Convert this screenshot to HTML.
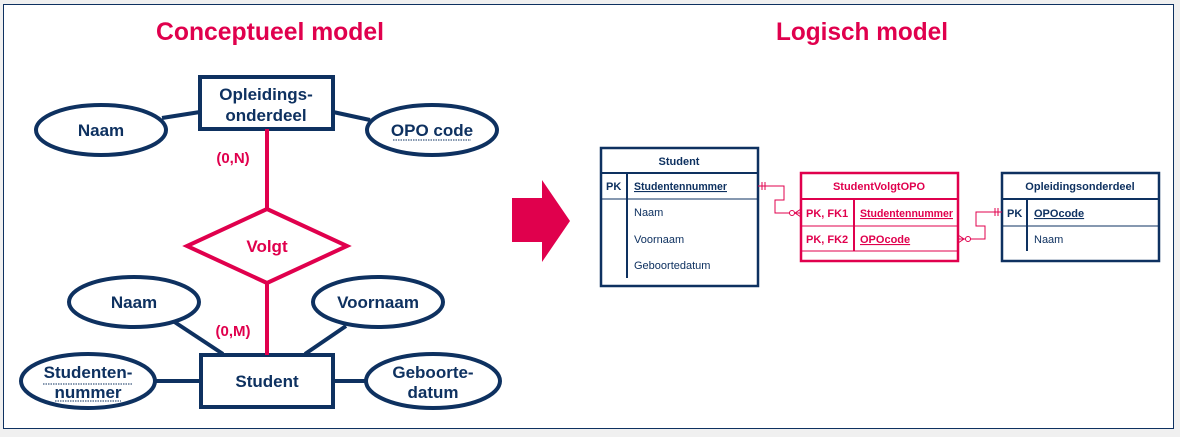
<!DOCTYPE html>
<html><head><meta charset="utf-8"><style>
html,body{margin:0;padding:0;background:#f0f0f0;}
svg{display:block;}
text{font-family:"Liberation Sans",Arial,sans-serif;font-weight:bold;}
.n{fill:#0e3160;}
.r{fill:#e0004d;}
.e{font-size:17px;}
.t{font-size:11px;}
.s{font-weight:normal;font-size:11px;fill:#0e3160;}
</style></head><body>
<svg width="1180" height="437" viewBox="0 0 1180 437" xmlns="http://www.w3.org/2000/svg">
<rect x="0" y="0" width="1180" height="437" fill="#f0f0f0"/>
<rect x="3.5" y="4.5" width="1170" height="424" fill="#fff" stroke="#0e3160" stroke-width="1"/>
<text x="270" y="40" class="r" style="font-size:25px" text-anchor="middle" textLength="228" lengthAdjust="spacingAndGlyphs">Conceptueel model</text>
<text x="862" y="40" class="r" style="font-size:25px" text-anchor="middle" textLength="172" lengthAdjust="spacingAndGlyphs">Logisch model</text>

<g stroke="#0e3160" stroke-width="4" fill="#fff">
<line x1="162" y1="118" x2="200" y2="112"/>
<line x1="333" y1="112" x2="370" y2="120"/>
<line x1="173" y1="321" x2="223" y2="354"/>
<line x1="346" y1="326" x2="305" y2="354"/>
<line x1="154" y1="381" x2="201" y2="381"/>
<line x1="333" y1="381" x2="367" y2="381"/>
<rect x="200" y="77" width="133" height="52"/>
<ellipse cx="101" cy="130" rx="65" ry="25"/>
<ellipse cx="432" cy="130" rx="65" ry="25"/>
<ellipse cx="134" cy="302" rx="65" ry="25"/>
<ellipse cx="378" cy="302" rx="65" ry="25"/>
<ellipse cx="88" cy="381" rx="67" ry="27"/>
<ellipse cx="433" cy="381" rx="67" ry="27"/>
<rect x="201" y="355" width="132" height="52"/>
</g>
<g stroke="#e0004d" stroke-width="4" fill="#fff">
<line x1="267" y1="129" x2="267" y2="210"/>
<line x1="267" y1="283" x2="267" y2="355"/>
<polygon points="267,209 347,246 267,283 187,246"/>
</g>
<g text-anchor="middle">
<text x="266" y="100" class="n e">Opleidings-</text>
<text x="266" y="121" class="n e">onderdeel</text>
<text x="101" y="136" class="n e">Naam</text>
<text x="432" y="136" class="n e">OPO code</text>
<text x="134" y="308" class="n e">Naam</text>
<text x="378" y="308" class="n e">Voornaam</text>
<text x="88" y="378" class="n e">Studenten-</text>
<text x="88" y="398" class="n e">nummer</text>
<text x="433" y="378" class="n e">Geboorte-</text>
<text x="433" y="398" class="n e">datum</text>
<text x="267" y="387" class="n e">Student</text>
<text x="267" y="252" class="r e">Volgt</text>
<text x="233" y="163" class="r" style="font-size:15px">(0,N)</text>
<text x="233" y="336" class="r" style="font-size:15px">(0,M)</text>
</g>
<g stroke="#0e3160" stroke-width="1" stroke-dasharray="1.5,1">
<line x1="393" y1="140" x2="471" y2="140"/>
<line x1="43" y1="384" x2="132" y2="384"/>
<line x1="55" y1="401" x2="121" y2="401"/>
</g>

<polygon points="512,198 542,198 542,180 570,221 542,262 542,242 512,242" fill="#e0004d"/>

<g stroke="#0e3160" fill="none">
<rect x="601" y="148" width="157" height="138" stroke-width="2.5"/>
<line x1="601" y1="173" x2="758" y2="173" stroke-width="2"/>
<line x1="601" y1="199" x2="758" y2="199" stroke-width="1"/>
<line x1="627" y1="173" x2="627" y2="278" stroke-width="2"/>
<rect x="1002" y="173" width="157" height="88" stroke-width="2.5"/>
<line x1="1002" y1="199" x2="1159" y2="199" stroke-width="2"/>
<line x1="1002" y1="226" x2="1159" y2="226" stroke-width="1"/>
<line x1="1027" y1="199" x2="1027" y2="251" stroke-width="2"/>
</g>
<g stroke="#e0004d" fill="none">
<rect x="801" y="173" width="157" height="88" stroke-width="2.5"/>
<line x1="801" y1="199" x2="958" y2="199" stroke-width="2"/>
<line x1="801" y1="226" x2="958" y2="226" stroke-width="1"/>
<line x1="801" y1="251" x2="958" y2="251" stroke-width="1"/>
<line x1="854" y1="199" x2="854" y2="251" stroke-width="2"/>
<path d="M758,186 H784 V200 H775 V213 H801" stroke-width="1"/>
<line x1="762" y1="182" x2="762" y2="190" stroke-width="1"/>
<line x1="765" y1="182" x2="765" y2="190" stroke-width="1"/>
<circle cx="792" cy="213" r="2.5" fill="#fff" stroke-width="1"/>
<path d="M801,209 L795,213 L801,217" stroke-width="1"/>
<path d="M958,239 H985 V226 H976 V212 H1002" stroke-width="1"/>
<line x1="995" y1="208" x2="995" y2="216" stroke-width="1"/>
<line x1="998" y1="208" x2="998" y2="216" stroke-width="1"/>
<circle cx="968" cy="239" r="2.5" fill="#fff" stroke-width="1"/>
<path d="M958,235 L964,239 L958,243" stroke-width="1"/>
</g>
<text x="679" y="165" class="n t" text-anchor="middle">Student</text>
<text x="606" y="190" class="n t">PK</text>
<text x="634" y="190" class="n t" text-decoration="underline" textLength="93" lengthAdjust="spacingAndGlyphs">Studentennummer</text>
<text x="634" y="216" class="s">Naam</text>
<text x="634" y="243" class="s">Voornaam</text>
<text x="634" y="269" class="s">Geboortedatum</text>
<text x="879" y="190" class="r t" text-anchor="middle">StudentVolgtOPO</text>
<text x="806" y="217" class="r t">PK, FK1</text>
<text x="860" y="217" class="r t" text-decoration="underline" textLength="93" lengthAdjust="spacingAndGlyphs">Studentennummer</text>
<text x="806" y="243" class="r t">PK, FK2</text>
<text x="860" y="243" class="r t" text-decoration="underline">OPOcode</text>
<text x="1080" y="190" class="n t" text-anchor="middle">Opleidingsonderdeel</text>
<text x="1007" y="217" class="n t">PK</text>
<text x="1034" y="217" class="n t" text-decoration="underline">OPOcode</text>
<text x="1034" y="243" class="s">Naam</text>
</svg>
</body></html>
